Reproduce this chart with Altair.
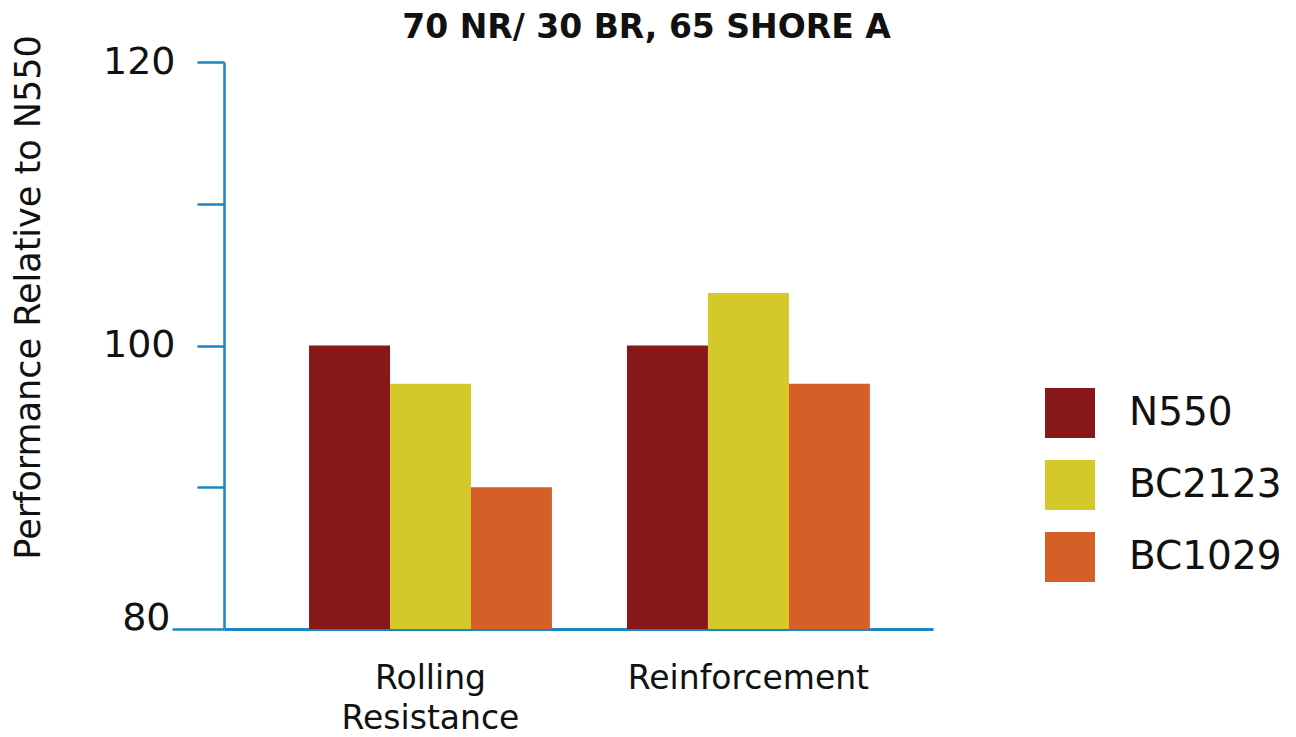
import altair as alt
import pandas as pd

categories = ["Rolling Resistance", "Reinforcement"]
series = ["N550", "BC2123", "BC1029"]
n550 = [100.0, 100.0]
bc2123 = [97.3, 103.7]
bc1029 = [90.0, 97.3]
colors = ["#88171a", "#d5c92a", "#d65f28"]
y_ticks = [80, 90, 100, 110, 120]
y_min, y_max = 80, 120

rows = []
for s, vals in zip(series, [n550, bc2123, bc1029]):
    for c, v in zip(categories, vals):
        rows.append({"category": c, "series": s, "value": v})
df = pd.DataFrame(rows)

FONT = "DejaVu Sans"
BLUE = "#1a87c0"

chart = alt.Chart(df).mark_bar().encode(
    x=alt.X("category:N", sort=categories,
            scale=alt.Scale(paddingInner=0.236, paddingOuter=0.233, align=0.574),
            axis=alt.Axis(title=None, labelAngle=0, ticks=False,
                          domainColor=BLUE, domainWidth=3,
                          labelFont=FONT, labelFontSize=33, labelColor="#111",
                          labelPadding=33, labelLineHeight=40, labelLimit=0,
                          labelExpr="split(datum.label, ' ')")),
    xOffset=alt.XOffset("series:N", sort=series,
                        scale=alt.Scale(paddingInner=0, paddingOuter=0)),
    y=alt.Y("value:Q",
            scale=alt.Scale(domain=[y_min, y_max], nice=False, zero=False),
            axis=alt.Axis(title="Performance Relative to N550",
                          values=y_ticks, grid=False,
                          labelExpr="datum.value % 20 == 0 ? datum.label : ''",
                          labelFont=FONT, labelFontSize=38, labelColor="#111",
                          labelPadding={"condition": {"test": "datum.value == 80", "value": 2}, "value": 22},
                          labelBaseline={"condition": {"test": "datum.value == 80", "value": "alphabetic"}, "value": "middle"},
                          tickSize={"condition": {"test": "datum.value == 80", "value": 52}, "value": 27},
                          tickColor=BLUE, tickWidth=2.5,
                          domainColor=BLUE, domainWidth=2.5,
                          titleFont=FONT, titleFontSize=35, titleFontWeight="normal",
                          titleColor="#111", titleX=-178, titleY=235)),
    y2=alt.datum(y_min),
    color=alt.Color("series:N", sort=series,
                    scale=alt.Scale(domain=series, range=colors),
                    legend=alt.Legend(title=None, orient="none", legendX=821, legendY=326,
                                      symbolType="square", symbolSize=2500,
                                      symbolStrokeWidth=0, symbolOpacity=1,
                                      labelFont=FONT, labelFontSize=39, labelColor="#111",
                                      labelOffset=34, rowPadding=22)),
).properties(
    width=709, height=567,
    title=alt.TitleParams("70 NR/ 30 BR, 65 SHORE A", font=FONT, fontSize=33,
                          fontWeight="bold", color="#111", anchor="middle",
                          frame="bounds", offset=-10),
    autosize=alt.AutoSizeParams(type="none"),
    padding={"left": 216, "top": 54, "right": 355, "bottom": 110},
).configure_view(stroke=None)

chart.save("out.html", embed_options={"renderer": "svg", "actions": False})
